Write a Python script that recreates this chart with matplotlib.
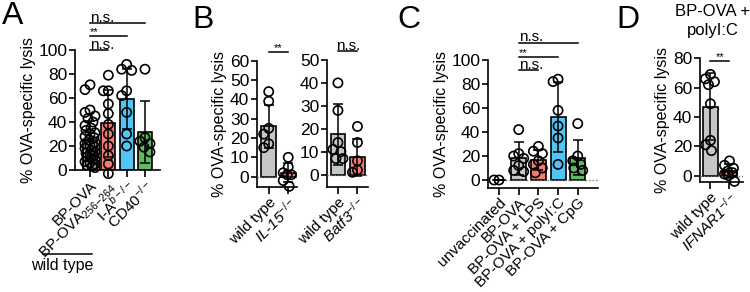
import numpy as np
import matplotlib.pyplot as plt
from matplotlib.lines import Line2D

plt.rcParams['font.family'] = ['Liberation Sans', 'DejaVu Sans']
plt.rcParams['mathtext.fontset'] = 'custom'
plt.rcParams['mathtext.rm'] = 'Liberation Sans'
plt.rcParams['mathtext.it'] = 'Liberation Sans:italic'
plt.rcParams['mathtext.bf'] = 'Liberation Sans:bold'

GRAY = '#c6c6c6'
RED = '#f27b73'
BLUE = '#52c5f5'
GREEN = '#62b865'

# ---- data ----
# panel A
a_labels = ['BP-OVA', r'BP-OVA$_{256\mathrm{-}264}$', r'I-A$^{b-/-}$', r'CD40$^{-/-}$']
a_means = [25, 39, 59.5, 31.5]
a_sd = [16, 28, 25, 26]
a_points = [
    [71, 67, 50, 48, 45, 43, 40, 37, 35, 33, 31, 30, 28, 27, 25, 23, 22, 20, 19,
     18, 16, 15, 14, 13, 12, 11, 10, 9, 7, 6, 5, 4, 3, 2],
    [79, 66, 66, 55, 47, 38, 30, 20, 12, 5, -3],
    [88, 84, 83, 66, 62, 48, 30, 20],
    [84, 27, 24, 22, 19, 15],
]
a_colors = [GRAY, RED, BLUE, GREEN]

# panel B (left)
b1_labels = ['wild type', r'IL-15$^{-/-}$']
b1_means = [26, 2]
b1_sd = [11, 5]
b1_points = [[44, 39, 25, 22, 17, 15], [10, 5, 2, 1, 1, -2, -5]]

# panel B (right)
b2_labels = ['wild type', r'Batf3$^{-/-}$']
b2_means = [17.5, 7.5]
b2_sd = [13.5, 8]
b2_points = [[40, 28, 14, 11, 10, 7, 7], [21, 14, 6, 2, 1]]

# panel C
c_labels = ['unvaccinated', 'BP-OVA', 'BP-OVA + LPS', 'BP-OVA + polyI:C', 'BP-OVA + CpG']
c_means = [0, 18, 16.5, 52.5, 18.5]
c_sd = [0, 14, 8.5, 29.5, 14.5]
c_points = [
    [0, 0],
    [42, 22, 20, 18, 12, 8, 7],
    [28, 24, 22, 16, 13, 10, 6],
    [84, 82, 58, 45, 35, 13],
    [47, 20, 16, 13, 10, 8],
]
c_colors = [GRAY, GRAY, RED, BLUE, GREEN]

# panel D
d_labels = ['wild type', r'IFNAR1$^{-/-}$']
d_means = [47, 3]
d_sd = [23, 5]
d_points = [[69, 66, 64, 62, 49, 24, 21, 17], [10, 7, 5, 3, 2, 1, 0, -4]]

W, H = 750, 292
fig = plt.figure(figsize=(W / 100, H / 100), dpi=100)

YLAB = 11.5


def make_ax(left, right, top, bottom, xlim, ylim):
    ax = fig.add_axes([left / W, 1 - bottom / H, (right - left) / W, (bottom - top) / H])
    ax.set_xlim(xlim)
    ax.set_ylim(ylim)
    for s in ['top', 'right']:
        ax.spines[s].set_visible(False)
    for s in ['left', 'bottom']:
        ax.spines[s].set_linewidth(1.2)
    ax.tick_params(axis='y', length=4, width=1.2, labelsize=12.5, pad=1.5)
    ax.tick_params(axis='x', length=5, width=1.2, labelsize=11, pad=1)
    return ax


def swarm(ax, x0, values, diam=8.0, max_half=5.0):
    # simple beeswarm in pixel space, offsets limited to the bar width
    placed = []
    xs = []
    px_unit = ax.transData.transform((1, 0))[0] - ax.transData.transform((0, 0))[0]
    cands = sorted(np.arange(-max_half, max_half + 0.01, 1.0), key=abs)
    for v in values:
        py = ax.transData.transform((x0, v))[1]
        best, best_d = 0.0, -1
        for c in cands:
            d = min([np.hypot(c - pc, py - pq) for pc, pq in placed], default=np.inf)
            if d >= diam:
                best = c
                break
            if d > best_d:
                best_d, best = d, c
        placed.append((best, py))
        xs.append(x0 + best / px_unit)
    return xs


def draw_bars(ax, means, sd, points, colors, width, labels, italic=()):
    x = np.arange(len(means))
    ax.bar(x, means, width=width, color=colors, edgecolor='black', linewidth=1.2, zorder=2)
    ax.errorbar(x, means, yerr=sd, fmt='none', ecolor='black', elinewidth=1.1,
                capsize=3.5, capthick=1.1, zorder=4)
    for i, vals in enumerate(points):
        xs = swarm(ax, i, vals)
        ax.scatter(xs, vals, s=44, facecolors='none', edgecolors='black',
                   linewidths=1.2, zorder=5, clip_on=False)
    ax.set_xticks(x)
    ax.set_xticklabels(labels, rotation=45, ha='right', rotation_mode='anchor')
    for i in italic:
        ax.get_xticklabels()[i].set_fontstyle('italic')


def zero_line(ax):
    ax.axhline(0, color='#777777', lw=1.0, ls=(0, (1, 1.5)), zorder=3)


def sig(ax, x1, x2, y, text, ha='left', size=11):
    ax.plot([x1, x2], [y, y], color='black', lw=1.1, clip_on=False)
    tx = x1 if ha == 'left' else (x1 + x2) / 2
    ax.annotate(text, (tx, y), xytext=(0, 0.8), textcoords='offset points',
                ha=ha, va='baseline', fontsize=size, annotation_clip=False)


# ---- panel A ----
axA = make_ax(75, 160, 50, 170, (-0.82, 3.82), (0, 100))
draw_bars(axA, a_means, a_sd, a_points, a_colors, 0.78, a_labels)
axA.set_yticks(range(0, 101, 20))
axA.set_ylabel('% OVA-specific lysis', fontsize=YLAB, labelpad=2)
sig(axA, 0, 3, 122.5, 'n.s.')
sig(axA, 0, 2, 111.5, '**', size=8)
sig(axA, 0, 1, 100, 'n.s.')
fig.add_artist(Line2D([43 / W, 92 / W], [1 - 254 / H, 1 - 254 / H], color='black', lw=1.1))
fig.text(62 / W, 1 - 265.5 / H, 'wild type', ha='center', va='center', fontsize=11.5)

# ---- panel B ----
axB1 = make_ax(257, 297, 60.7, 186.7, (-0.6, 1.45), (-5.2, 60))
zero_line(axB1)
draw_bars(axB1, b1_means, b1_sd, b1_points, [GRAY, RED], 0.75, b1_labels, italic=[1])
axB1.set_yticks(range(0, 61, 10))
axB1.set_ylabel('% OVA-specific lysis', fontsize=YLAB, labelpad=2)
sig(axB1, 0, 1, 64.5, '**', ha='center', size=8)

axB2 = make_ax(327, 368, 60, 186.5, (-0.56, 1.54), (-5.2, 50))
zero_line(axB2)
draw_bars(axB2, b2_means, b2_sd, b2_points, [GRAY, RED], 0.75, b2_labels, italic=[1])
axB2.set_yticks(range(0, 51, 10))
sig(axB2, 0, 1, 53.8, 'n.s.', ha='center')

# ---- panel C ----
axC = make_ax(488, 598, 60, 187.5, (-0.56, 5.03), (-6.25, 100))
zero_line(axC)
draw_bars(axC, c_means, c_sd, c_points, c_colors, 0.76, c_labels)
axC.set_yticks(range(0, 101, 20))
axC.set_ylabel('% OVA-specific lysis', fontsize=YLAB, labelpad=2)
sig(axC, 1, 4, 114.5, 'n.s.')
sig(axC, 1, 3, 102.5, '**', size=8)
sig(axC, 1, 2, 91.5, 'n.s.')

# ---- panel D ----
axD = make_ax(700, 743, 58.3, 182, (-0.55, 1.71), (-4.4, 80))
zero_line(axD)
draw_bars(axD, d_means, d_sd, d_points, [GRAY, RED], 0.74, d_labels, italic=[1])
axD.set_yticks(range(0, 81, 20))
axD.set_ylabel('% OVA-specific lysis', fontsize=YLAB, labelpad=2)
sig(axD, 0, 1, 78, '**', ha='center', size=8)
fig.text(713 / W, 1 - 21 / H, 'BP-OVA +\npolyI:C', ha='center', va='center',
         fontsize=12, linespacing=1.3)

# panel letters
for letter, x, y in [('A', 2, 1), ('B', 192, 5), ('C', 397, 5), ('D', 616, 5)]:
    fig.text(x / W, 1 - y / H, letter, ha='left', va='top', fontsize=23)

fig.savefig('out.png', dpi=100)
